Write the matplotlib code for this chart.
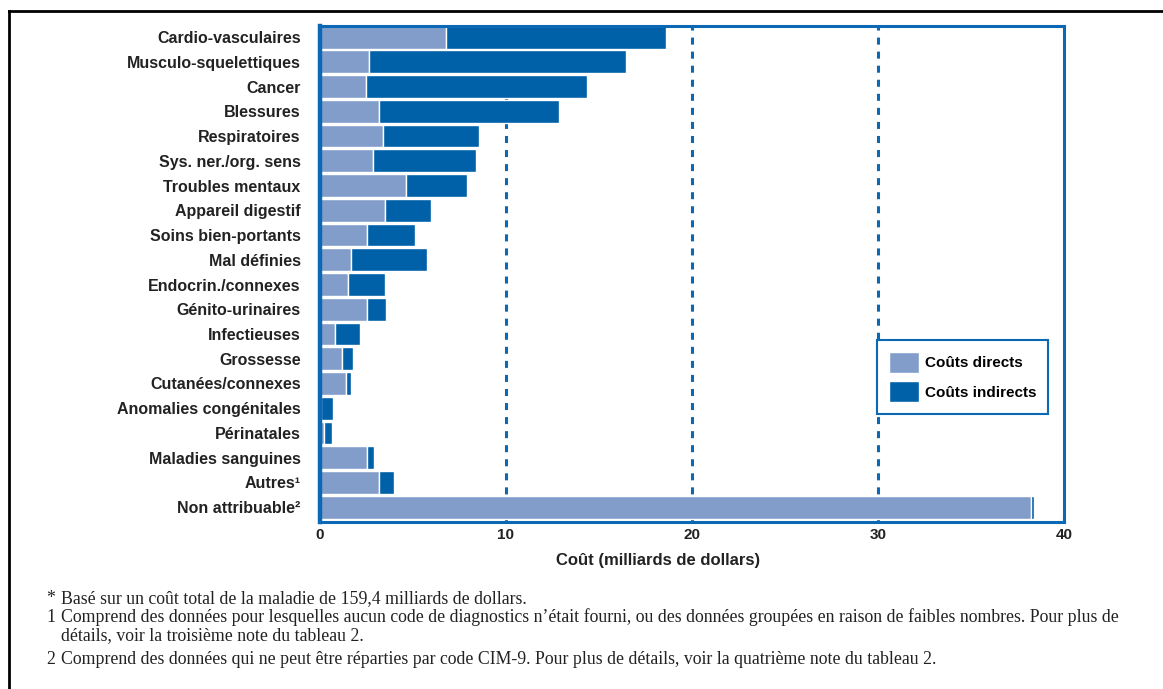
import numpy as np
import matplotlib
matplotlib.use("Agg")
import matplotlib.pyplot as plt
from matplotlib.lines import Line2D

# Cost by disease category (billions of dollars)
categories = ["Cardio-vasculaires", "Musculo-squelettiques", "Cancer", "Blessures",
              "Respiratoires", "Sys. ner./org. sens", "Troubles mentaux",
              "Appareil digestif", "Soins bien-portants", "Mal définies",
              "Endocrin./connexes", "Génito-urinaires", "Infectieuses", "Grossesse",
              "Cutanées/connexes", "Anomalies congénitales", "Périnatales",
              "Maladies sanguines", "Autres\u00b9", "Non attribuable\u00b2"]
direct = [6.80, 2.63, 2.46, 3.19, 3.39, 2.83, 4.62, 3.49, 2.54, 1.67,
          1.49, 2.54, 0.82, 1.20, 1.38, 0.05, 0.23, 2.54, 3.19, 38.20]
indirect = [11.80, 13.82, 11.91, 9.66, 5.18, 5.54, 3.27, 2.46, 2.55, 4.08,
            1.99, 1.03, 1.33, 0.56, 0.31, 0.67, 0.40, 0.36, 0.77, 0.20]
x_ticks = [0, 10, 20, 30, 40]
grid_lines = [10, 20, 30]

footnotes = [
    ("*", "Basé sur un coût total de la maladie de 159,4 milliards de dollars."),
    ("1", "Comprend des données pour lesquelles aucun code de diagnostics n’était fourni, "
          "ou des données groupées en raison de faibles nombres. Pour plus de"),
    ("", "détails, voir la troisième note du tableau 2."),
    ("2", "Comprend des données qui ne peut être réparties par code CIM-9. "
          "Pour plus de détails, voir la quatrième note du tableau 2."),
]

light = "#839dcb"
dark = "#0061a9"
frame = "#0a68b4"
txt = "#222222"

fig = plt.figure(figsize=(11.63, 6.89), dpi=100)
ax = fig.add_axes([320 / 1163, 1 - 522 / 689, 744 / 1163, 496 / 689])

y = np.arange(len(categories))
for xg in grid_lines:
    ax.axvline(xg, color=frame, lw=2.2, linestyle=(0, (2.3, 2.3)), zorder=0)

ax.barh(y, direct, height=0.92, color=light, edgecolor="white", linewidth=1,
        label="Coûts directs", zorder=2)
ax.barh(y, indirect, left=direct, height=0.92, color=dark, edgecolor="white",
        linewidth=1, label="Coûts indirects", zorder=2)

ax.set_xlim(0, 40)
ax.set_ylim(len(categories) - 0.4, -0.45)
ax.set_yticks(y)
ax.set_yticklabels(categories, fontsize=11.5, fontweight="bold", color=txt,
                   family="Liberation Sans")
ax.tick_params(axis="y", length=0, pad=14)
ax.set_xticks(x_ticks)
ax.set_xticklabels([str(v) for v in x_ticks], fontsize=11, fontweight="bold",
                   color=txt, family="Liberation Sans")
ax.tick_params(axis="x", direction="in", length=3, width=1.5, color=frame, pad=4)

for side, lw in [("left", 3.2), ("bottom", 2.2), ("top", 2.2), ("right", 2.2)]:
    ax.spines[side].set_color(frame)
    ax.spines[side].set_linewidth(lw)

leg = ax.legend(loc="lower left", bbox_to_anchor=(0.749, 0.218), borderaxespad=0,
                fancybox=False, edgecolor=frame, framealpha=1,
                prop={"family": "Liberation Sans", "weight": "bold", "size": 11},
                handlelength=2.0, handleheight=1.75, handletextpad=0.35,
                labelspacing=0.55, borderpad=0.75)
leg.get_frame().set_linewidth(1.5)

fig.text(658 / 1163, 1 - 561 / 689, "Coût (milliards de dollars)", ha="center",
         va="center", fontsize=12, fontweight="bold", color=txt,
         family="Liberation Sans")

# footnotes
baselines = [603, 622, 640, 664]
for (mark, text), yb in zip(footnotes, baselines):
    if mark:
        fig.text(46 / 1163, 1 - yb / 689, mark, ha="left", va="baseline",
                 fontsize=12.8, family="Liberation Serif", color=txt)
    fig.text(61 / 1163, 1 - yb / 689, text, ha="left", va="baseline",
             fontsize=12.8, family="Liberation Serif", color=txt)

# outer page frame
fig.add_artist(Line2D([9 / 1163, 1], [1 - 11 / 689, 1 - 11 / 689], color="black", lw=2))
fig.add_artist(Line2D([9 / 1163, 9 / 1163], [0, 1 - 11 / 689], color="black", lw=2))

fig.savefig("out.png", dpi=100)
